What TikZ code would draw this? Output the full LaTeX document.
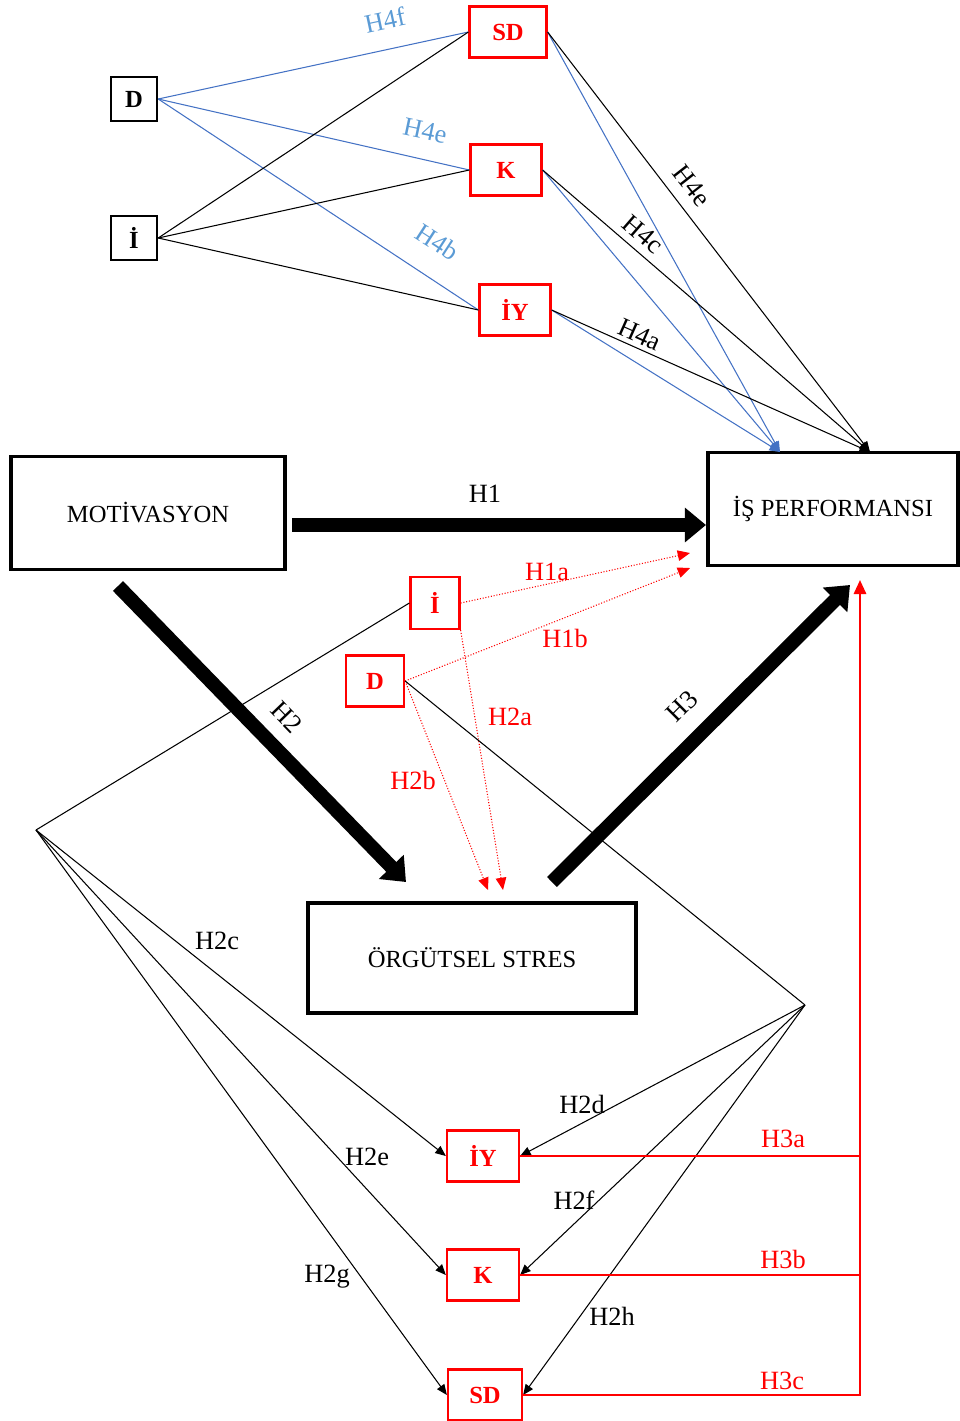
\documentclass[tikz,border=0pt]{standalone}
\usepackage{fontspec}
\setmainfont{Liberation Serif}
\usetikzlibrary{arrows.meta}
\definecolor{lineblue}{RGB}{68,114,196}
\definecolor{labelblue}{RGB}{91,155,213}

\begin{document}
\begin{tikzpicture}[x=0.02cm, y=-0.02cm,
  every node/.style={font=\fontsize{15}{17}\selectfont},
  mainbox/.style={draw, line width=1.8pt, font=\fontsize{14}{16}\selectfont},
  blackbox/.style={draw, line width=1.4pt, font=\fontsize{14}{16}\selectfont\bfseries, minimum width=0.92cm, minimum height=0.88cm},
  redbox/.style={draw=red, text=red, line width=1.3pt, font=\fontsize{14}{16}\selectfont\bfseries, minimum height=1.02cm},
  blackline/.style={draw, line width=0.6pt},
  blueline/.style={draw=lineblue, line width=0.6pt},
  smallhead/.style={-{Triangle[length=6pt,width=5pt]}},
  bigarrow/.style={line width=8pt, -{Triangle[length=12pt,width=19pt]}},
  reddot/.style={red, densely dotted, line width=0.6pt, -{Triangle[length=7pt,width=6pt]}},
  redline/.style={red, line width=1.3pt},
  lbl/.style={inner sep=1pt},
]
  \useasboundingbox (0,0) rectangle (960,1421);

  % Kutular
  \node[blackbox] (dtop) at (134,99) {D};
  \node[blackbox] (itop) at (134,238) {İ};
  \node[redbox, minimum width=1.54cm] (sdtop) at (508,32) {SD};
  \node[redbox, minimum width=1.42cm] (ktop) at (506,170) {K};
  \node[redbox, minimum width=1.42cm] (iytop) at (515,310) {İY};
  \node[mainbox, minimum width=5.48cm, minimum height=2.26cm] (mot) at (148,513) {MOTİVASYON};
  \node[mainbox, minimum width=5cm, minimum height=2.26cm] (perf) at (833,509) {İŞ PERFORMANSI};
  \node[mainbox, minimum width=6.56cm, minimum height=2.2cm] (stres) at (472,958) {ÖRGÜTSEL STRES};
  \node[redbox, minimum width=0.98cm, minimum height=1.04cm] (imid) at (435,603) {İ};
  \node[redbox, minimum width=1.16cm] (dmid) at (375,681) {D};
  \node[redbox, minimum width=1.44cm] (iybot) at (483,1156) {İY};
  \node[redbox, minimum width=1.44cm] (kbot) at (483,1275) {K};
  \node[redbox, minimum width=1.48cm] (sdbot) at (485,1395) {SD};

  % Serbest uclar
  \coordinate (perfblue) at (780,452);
  \coordinate (perfblack) at (870,452);
  \coordinate (h1start) at (292,525);
  \coordinate (h1end) at (706,525);
  \coordinate (h2start) at (118,586);
  \coordinate (h2end) at (406,882);
  \coordinate (h3start) at (552,882);
  \coordinate (h3end) at (850,585);
  \coordinate (h1atip) at (690,553);
  \coordinate (h1btip) at (690,568);
  \coordinate (h2atip) at (503,890);
  \coordinate (h2btip) at (488,890);
  \coordinate (leftfork) at (36,830);
  \coordinate (rightfork) at (805,1005);
  \coordinate (perfred) at (860,580);

  % Ust kisim
  \draw[blueline] (dtop.east) -- (sdtop.west);
  \draw[blueline] (dtop.east) -- (ktop.west);
  \draw[blueline] (dtop.east) -- (iytop.west);
  \draw[blackline] (itop.east) -- (sdtop.west);
  \draw[blackline] (itop.east) -- (ktop.west);
  \draw[blackline] (itop.east) -- (iytop.west);
  \draw[blueline, smallhead] (sdtop.east) -- (perfblue);
  \draw[blueline, smallhead] (ktop.east) -- (perfblue);
  \draw[blueline, smallhead] (iytop.east) -- (perfblue);
  \draw[blackline, smallhead] (sdtop.east) -- (perfblack);
  \draw[blackline, smallhead] (ktop.east) -- (perfblack);
  \draw[blackline, smallhead] (iytop.east) -- (perfblack);

  \node[lbl, text=labelblue, rotate=12] (l4f) at (385,20) {H4f};
  \node[lbl, text=labelblue, rotate=-12] (l4eb) at (425,131) {H4e};
  \node[lbl, text=labelblue, rotate=-33] (l4b) at (437,242) {H4b};
  \node[lbl, rotate=-52] (l4e) at (692,186) {H4e};
  \node[lbl, rotate=-41] (l4c) at (643,234) {H4c};
  \node[lbl, rotate=-24] (l4a) at (640,335) {H4a};

  % Ana yollar
  \draw[bigarrow] (h1start) -- (h1end);
  \draw[bigarrow] (h2start) -- (h2end);
  \draw[bigarrow] (h3start) -- (h3end);
  \node[lbl] (l1) at (485,494) {H1};
  \node[lbl, rotate=-46] (l2) at (287,717) {H2};
  \node[lbl, rotate=45] (l3) at (682,706) {H3};

  % Kirmizi noktali
  \draw[reddot] (imid.east) -- (h1atip);
  \draw[reddot] (dmid.east) -- (h1btip);
  \draw[reddot] (imid.south east) -- (h2atip);
  \draw[reddot] (dmid.east) -- (h2btip);
  \node[lbl, text=red] (l1a) at (547,572) {H1a};
  \node[lbl, text=red] (l1b) at (565,638) {H1b};
  \node[lbl, text=red] (l2a) at (510,717) {H2a};
  \node[lbl, text=red] (l2b) at (413,780) {H2b};

  % Alt kisim
  \draw[blackline] (imid.west) -- (leftfork);
  \draw[blackline, smallhead] (leftfork) -- (iybot.west);
  \draw[blackline, smallhead] (leftfork) -- (kbot.west);
  \draw[blackline, smallhead] (leftfork) -- (sdbot.west);
  \draw[blackline] (dmid.east) -- (rightfork);
  \draw[blackline, smallhead] (rightfork) -- (iybot.east);
  \draw[blackline, smallhead] (rightfork) -- (kbot.east);
  \draw[blackline, smallhead] (rightfork) -- (sdbot.east);
  \node[lbl] (l2c) at (217,941) {H2c};
  \node[lbl] (l2e) at (367,1157) {H2e};
  \node[lbl] (l2g) at (327,1277) {H2g};
  \node[lbl] (l2d) at (582,1104) {H2d};
  \node[lbl] (l2f) at (574,1200) {H2f};
  \node[lbl] (l2h) at (612,1316) {H2h};

  \draw[redline] (iybot.east) -- (iybot.east -| perfred);
  \draw[redline] (kbot.east) -- (kbot.east -| perfred);
  \draw[redline, -{Triangle[length=8pt,width=7pt]}] (sdbot.east) -| (perfred);
  \node[lbl, text=red] (l3a) at (783,1139) {H3a};
  \node[lbl, text=red] (l3b) at (783,1259) {H3b};
  \node[lbl, text=red] (l3c) at (782,1381) {H3c};
\end{tikzpicture}
\end{document}
